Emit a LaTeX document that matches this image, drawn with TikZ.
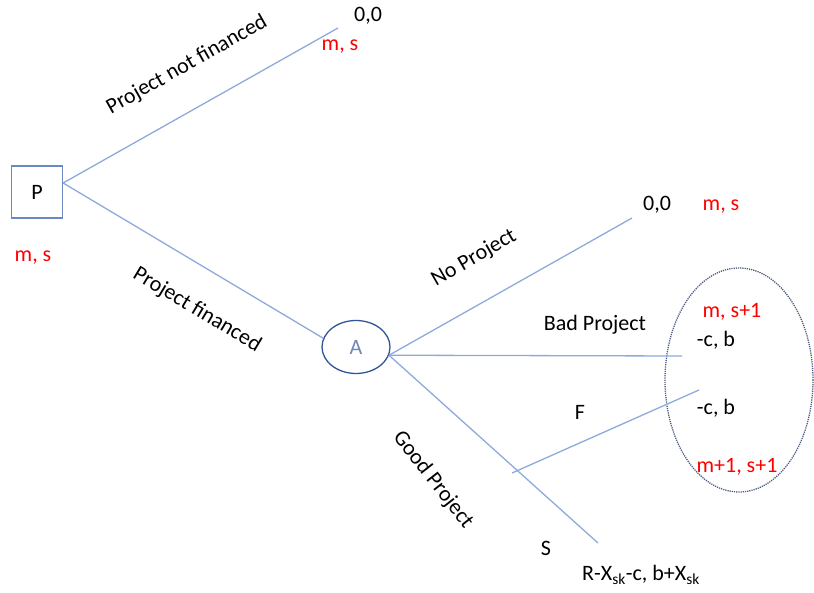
\documentclass[tikz,border=0pt]{standalone}
\usepackage{fontspec}
\setmainfont{Carlito}
\usepackage{xcolor}
\usetikzlibrary{shapes.geometric}

\definecolor{branchblue}{HTML}{8EA9DB}
\definecolor{boxblue}{HTML}{6A88C4}
\definecolor{ellblue}{HTML}{2F5597}
\definecolor{grpblue}{HTML}{4A5A80}

\begin{document}
\begin{tikzpicture}[x=1pt,y=-1pt,
      font=\fontsize{22}{26}\selectfont,
      branch/.style={draw=branchblue,line width=1.3pt},
      payoff/.style={text=red}]
    \useasboundingbox (0,0) rectangle (814,593);
    % decision nodes
    \node[draw=boxblue,line width=1.3pt,minimum width=51pt,minimum height=52pt] (P) at (37,192) {P};
    \node[ellipse,draw=ellblue,line width=1.3pt,minimum width=68pt,minimum height=53pt,text=ellblue!70] (A) at (356,347) {A};
    \node[ellipse,draw=grpblue,dash pattern=on 1.2pt off 1pt,line width=1.3pt,minimum width=148pt,minimum height=224pt] (grp) at (739,380) {};
    % branch ends
    \coordinate (pnf) at (338,28);
    \coordinate (np) at (632,218);
    \coordinate (bp) at (682,356);
    \coordinate (gp) at (598,543);
    \coordinate (fs) at (512,473);
    \coordinate (fe) at (699,390);
    \draw[branch] ([yshift=9pt]P.east) -- (pnf);
    \draw[branch] ([yshift=9pt]P.east) -- (A.165);
    \draw[branch] (A.-14) -- (np);
    \draw[branch] (A.-14) -- (bp);
    \draw[branch] (A.-14) -- (gp);
    \draw[branch] (fs) -- (fe);
    % branch labels
    \node[rotate=29.5] (lpnf) at (187,65) {Project not financed};
    \node[rotate=-31] (lpf) at (197,310) {Project financed};
    \node[rotate=30] (lnp) at (474,258) {No Project};
    \node[rotate=-52] (lgp) at (433,480) {Good Project};
    \node (lbp) at (595,325) {Bad Project};
    \node (lf) at (580,412) {F};
    \node (ls) at (546,548) {S};
    % payoffs
    \node[payoff] (ms0) at (33,258) {m, s};
    \node (z1) at (368,16) {0,0};
    \node[payoff] (ms1) at (340,47) {m, s};
    \node (z2) at (657,205) {0,0};
    \node[payoff] (ms2) at (721,207) {m, s};
    \node[payoff] (ms3) at (732,312) {m, s+1};
    \node (cb1) at (716,340) {-c, b};
    \node (cb2) at (716,408) {-c, b};
    \node[payoff] (ms4) at (737,467) {m+1, s+1};
    \node (rx) at (641,575) {R-X\textsubscript{sk}-c, b+X\textsubscript{sk}};
\end{tikzpicture}
\end{document}
